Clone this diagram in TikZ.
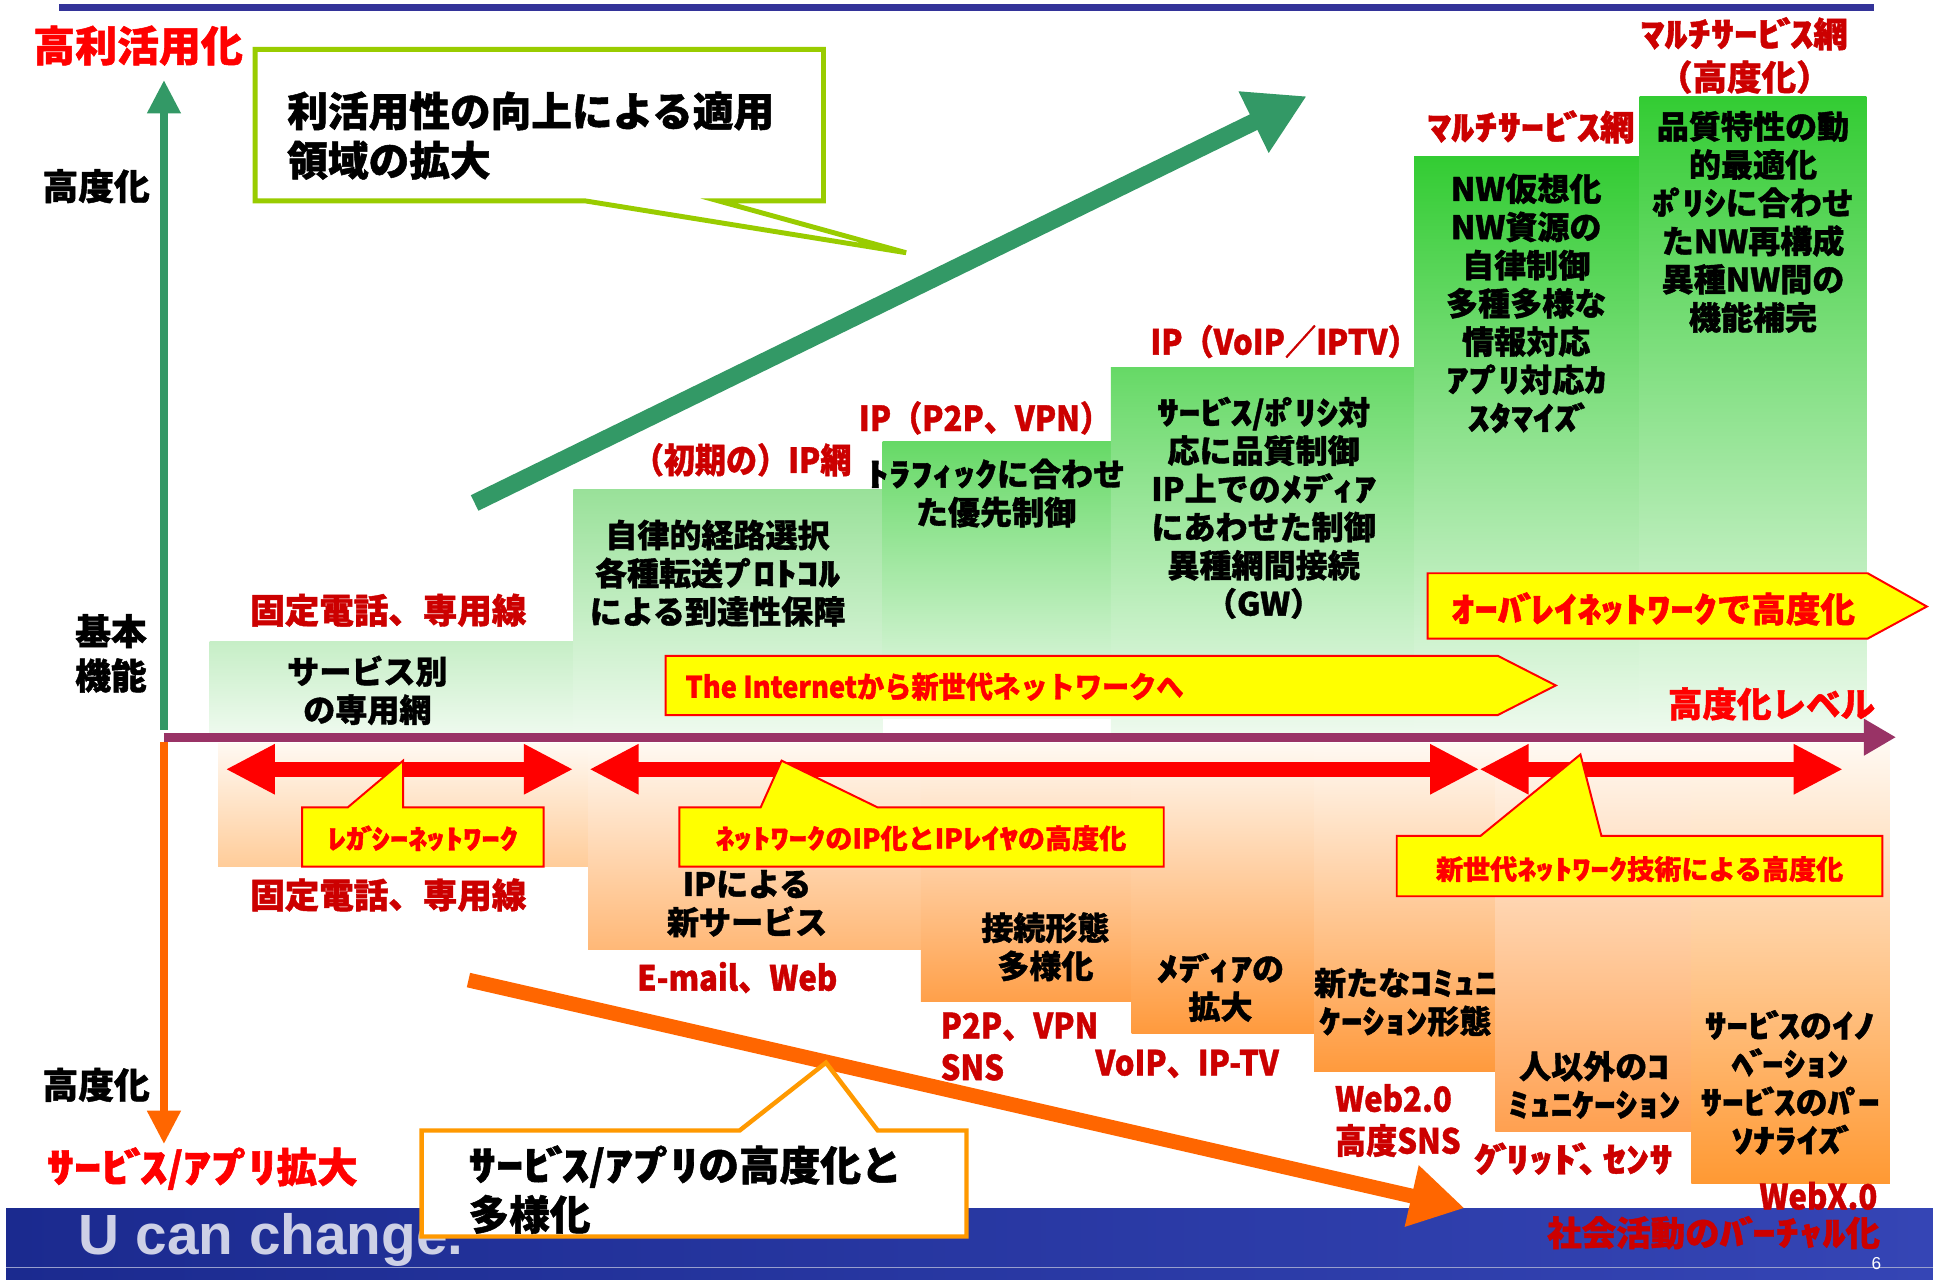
\documentclass[tikz,border=0pt]{standalone}
\usepackage{fontspec}
\usepackage{graphicx}
\setmainfont{Noto Sans CJK JP}[BoldFeatures={FakeBold=1.2}]
\newfontfamily\latfont{Liberation Sans}
\usetikzlibrary{arrows.meta}
\definecolor{navy}{HTML}{333399}
\definecolor{ggreen}{HTML}{339966}
\definecolor{purp}{HTML}{993366}
\definecolor{orng}{HTML}{FF6600}
\definecolor{dred}{HTML}{CC0000}
\definecolor{bred}{HTML}{FF0000}
\definecolor{lime}{HTML}{99CC00}
\definecolor{amber}{HTML}{FF9900}
\definecolor{yel}{HTML}{FFFF00}
\definecolor{bandA}{HTML}{1B2A8F}
\definecolor{bandB}{HTML}{3545B5}
\definecolor{gb}{HTML}{EEFAEE}
\definecolor{gsA}{HTML}{C6EEC6}
\definecolor{gsB}{HTML}{99E199}
\definecolor{gsC}{HTML}{66D966}
\definecolor{gsCm}{HTML}{A6E8A6}
\definecolor{gsD}{HTML}{33CC33}
\definecolor{gsDm}{HTML}{8EDC8E}
\definecolor{otop}{HTML}{FFF9F2}
\newcommand{\hw}[1]{\scalebox{1.35}[1]{#1}}
\newcommand{\cnd}[1]{\scalebox{0.9}[1]{#1}}
\newcommand{\dk}{\kern-0.1em ﾞ\kern-0.2em }
\newcommand{\hd}{\kern-0.1em ﾟ\kern-0.2em }
\tikzset{
  every node/.style={inner sep=0pt, outer sep=0pt},
  blk/.style={text=black, align=center, font=\fontsize{13}{15.5}\selectfont\bfseries},
  rlab/.style={text=dred, align=center, font=\fontsize{14}{17}\selectfont\bfseries},
  blab/.style={text=bred, align=center, font=\fontsize{14}{17}\selectfont\bfseries},
  axlab/.style={text=black, align=center, font=\fontsize{14.5}{18}\selectfont\bfseries},
  bigtxt/.style={text=black, align=left, font=\fontsize{16.5}{20}\selectfont\bfseries},
  ytxt/.style={text=bred, font=\fontsize{11}{13}\selectfont\bfseries},
  yshape/.style={fill=yel, draw=bred, line width=0.8pt, line join=miter},
  redarr/.style={draw=bred, line width=6pt, {Triangle[length=20pt,width=19pt]}-{Triangle[length=20pt,width=19pt]}},
  axarrow/.style={line width=3pt, -{Triangle[length=13.5pt,width=13pt]}},
}
\begin{document}
\begin{tikzpicture}[x=0.5pt,y=-0.5pt]
\useasboundingbox (0,0) rectangle (1568,1038);
\fill[white] (0,0) rectangle (1568,1038);

% bottom band
\shade[left color=bandA, right color=bandB] (5,980) rectangle (1568,1038);
\draw[white!55!bandA, line width=0.6pt] (5,1028) -- (1568,1028);
\node[anchor=west, text=white!78!bandA, font=\latfont\fontsize{23}{26}\selectfont\bfseries] (uc) at (64,1006) {U can change.};
\node[text=white, font=\latfont\fontsize{7}{8}\selectfont] (pg) at (1522,1025) {6};

% top bar
\fill[navy] (48,3) rectangle (1520,9);

% green steps
\shade[top color=gsA, bottom color=gb] (170,520) rectangle (465,595);
\shade[top color=gsB, bottom color=gb] (465,397) rectangle (716,595);
\shade[top color=gsC, middle color=gsCm, bottom color=gb] (716,358) rectangle (901,583);
\shade[top color=gsC, middle color=gsCm, bottom color=gb] (901,298) rectangle (1147,595);
\shade[top color=gsD, middle color=gsDm, bottom color=gb] (1147,127) rectangle (1330,595);
\shade[top color=gsD, middle color=gsDm, bottom color=gb] (1330,78) rectangle (1514,595);

% orange columns
\shade[top color=otop, bottom color={rgb,255:red,255;green,204;blue,153}] (177,603) rectangle (477,703);
\shade[top color=otop, bottom color={rgb,255:red,255;green,184;blue,119}] (477,603) rectangle (747,770);
\shade[top color=otop, bottom color={rgb,255:red,255;green,160;blue,74}] (747,603) rectangle (918,812);
\shade[top color=otop, bottom color={rgb,255:red,255;green,154;blue,61}] (918,603) rectangle (1066,838);
\shade[top color=otop, bottom color={rgb,255:red,255;green,154;blue,61}] (1066,603) rectangle (1213,869);
\shade[top color=otop, bottom color={rgb,255:red,255;green,160;blue,80}] (1213,603) rectangle (1372,918);
\shade[top color=otop, bottom color={rgb,255:red,255;green,153;blue,51}] (1372,603) rectangle (1533,960);

% axes
\coordinate (gv0) at (133,592);
\coordinate (gv1) at (133,65);
\coordinate (ov0) at (133,602);
\coordinate (ov1) at (133,928);
\coordinate (pa0) at (133,598);
\coordinate (pa1) at (1538,598);
\draw[ggreen, axarrow] (gv0) -- (gv1);
\draw[orng, axarrow] (ov0) -- (ov1);
\draw[purp, line width=3.5pt, -{Triangle[length=13pt,width=14pt]}] (pa0) -- (pa1);

% axis labels
\node[text=bred, font=\fontsize{17}{20}\selectfont\bfseries] (hk) at (112,37) {高利活用化};
\node[axlab] (kd1) at (78,151) {高度化};
\node[axlab] (kn) at (90,530) {基本\\機能};
\node[axlab] (kd2) at (78,880) {高度化};
\node[text=bred, font=\fontsize{16.5}{19}\selectfont\bfseries] (sa) at (164,948) {\hw{ｻｰﾋ\dk ｽ}/\hw{ｱﾌ\hd ﾘ}拡大};
\node[blab] (lvl) at (1437,571) {高度化レベル};

% step labels
\node[rlab] (l1) at (315,495) {固定電話、専用線};
\node[rlab] (l2) at (602,373) {\cnd{（初期の）IP網}};
\node[rlab] (l3) at (799,339) {\cnd{IP（P2P、VPN）}};
\node[rlab] (l4) at (1042,277) {\cnd{IP（VoIP／IPTV）}};
\node[rlab] (l5) at (1242,103) {\hw{ﾏﾙﾁｻｰﾋ\dk ｽ}網};
\node[rlab, font=\fontsize{14}{17.5}\selectfont\bfseries] (l6) at (1415,45) {\hw{ﾏﾙﾁｻｰﾋ\dk ｽ}網\\（高度化）};

% step texts
\node[blk] (s1) at (298,560) {サービス別\\の専用網};
\node[blk] (s2) at (582,465) {自律的経路選択\\各種転送\hw{ﾌ\hd ﾛﾄｺﾙ}\\による到達性保障};
\node[blk] (s3) at (808,400) {\hw{ﾄﾗﾌｨｯｸ}に合わせ\\た優先制御};
\node[blk] (s4) at (1025,412) {\hw{ｻｰﾋ\dk ｽ}/\hw{ﾎ\hd ﾘｼ}対\\応に品質制御\\IP上での\hw{ﾒﾃ\dk ｨｱ}\\にあわせた制御\\異種網間接続\\（GW）};
\node[blk] (s5) at (1238,246) {NW仮想化\\NW資源の\\自律制御\\多種多様な\\情報対応\\\hw{ｱﾌ\hd ﾘ}対応\hw{ｶ}\\\hw{ｽﾀﾏｲｽ\dk}};
\node[blk] (s6) at (1422,180) {品質特性の動\\的最適化\\\hw{ﾎ\hd ﾘｼ}に合わせ\\たNW再構成\\異種NW間の\\機能補完};

% yellow big arrows
\draw[yshape] (540,532) -- (1215,532) -- (1262,556) -- (1215,580) -- (540,580) -- cycle;
\node[anchor=west, text=bred, font=\fontsize{12}{14}\selectfont\bfseries] (inet) at (556,557) {\scalebox{0.92}[1]{The Internetから新世代ネットワークへ}};
\draw[yshape] (1158,465) -- (1515,465) -- (1563,492) -- (1515,518) -- (1158,518) -- cycle;
\node[text=bred, font=\fontsize{14}{16}\selectfont\bfseries] (ovl) at (1341,494) {\hw{ｵｰﾊ\dk ﾚｲﾈｯﾄﾜｰｸ}で高度化};

% red double arrows
\coordinate (ra0) at (183,624); \coordinate (ra1) at (465,624);
\coordinate (rb0) at (478,624); \coordinate (rb1) at (1200,624);
\coordinate (rc0) at (1200,624); \coordinate (rc1) at (1495,624);
\draw[redarr] (ra0) -- (ra1);
\draw[redarr] (rb0) -- (rb1);
\draw[redarr] (rc0) -- (rc1);

% yellow callouts
\draw[yshape] (245,655) -- (282,655) -- (327,617) -- (327,655) -- (441,655) -- (441,703) -- (245,703) -- cycle;
\node[ytxt] (c1) at (343,680) {\hw{ﾚｶ\dk ｼｰﾈｯﾄﾜｰｸ}};
\draw[yshape] (551,655) -- (617,655) -- (634,617) -- (712,655) -- (944,655) -- (944,703) -- (551,703) -- cycle;
\node[ytxt] (c2) at (747,680) {\hw{ﾈｯﾄﾜｰｸ}のIP化とIP\hw{ﾚｲﾔ}の高度化};
\draw[yshape] (1133,678) -- (1201,678) -- (1282,612) -- (1299,678) -- (1527,678) -- (1527,727) -- (1133,727) -- cycle;
\node[ytxt] (c3) at (1330,705) {新世代\hw{ﾈｯﾄﾜｰｸ}技術による高度化};

% bottom texts
\node[rlab] (b1) at (315,726) {固定電話、専用線};
\node[blk] (o2) at (606,733) {IPによる\\新サービス};
\node[rlab] (b2) at (598,793) {\cnd{E-mail、Web}};
\node[blk] (o3) at (848,768) {接続形態\\多様化};
\node[rlab, align=left, anchor=west] (b3) at (763,849) {\cnd{P2P、VPN}\\\cnd{SNS}};
\node[blk] (o4) at (990,801) {\hw{ﾒﾃ\dk ｨｱ}の\\拡大};
\node[rlab] (b4) at (963,863) {\cnd{VoIP、IP-TV}};
\node[blk] (o5) at (1140,813) {新たな\hw{ｺﾐｭﾆ}\\\hw{ｹｰｼｮﾝ}形態};
\node[rlab, align=left, anchor=west] (b5) at (1083,909) {\cnd{Web2.0}\\\cnd{高度SNS}};
\node[blk] (o6) at (1293,880) {人以外の\hw{ｺ}\\\hw{ﾐｭﾆｹｰｼｮﾝ}};
\node[blk] (o7) at (1452,878) {\hw{ｻｰﾋ\dk ｽ}の\hw{ｲﾉ}\\\hw{ﾍ\dk ｰｼｮﾝ}\\\hw{ｻｰﾋ\dk ｽ}の\hw{ﾊ\hd ｰ}\\\hw{ｿﾅﾗｲｽ\dk}};
\node[rlab] (b6) at (1276,940) {\hw{ｸ\dk ﾘｯﾄ\dk}\kern-0.2em 、\kern-0.3em\hw{ｾﾝｻ}};
\node[rlab] (b7) at (1475,970) {\cnd{WebX.0}};
\node[rlab] (b8) at (1390,1000) {社会活動の\hw{ﾊ\dk ｰﾁｬﾙ}化};

% big diagonal arrows
\coordinate (ga0) at (385,408); \coordinate (ga1) at (1060,78);
\draw[ggreen, line width=7pt, -{Triangle[length=24pt,width=26pt]}] (ga0) -- (ga1);
\coordinate (oa0) at (380,795); \coordinate (oa1) at (1188,980);
\draw[orng, line width=6pt, -{Triangle[length=22pt,width=24pt]}] (oa0) -- (oa1);

% big callouts
\draw[lime, line width=2pt, fill=white, line join=miter] (207,40) -- (668,40) -- (668,163) -- (583,163) -- (735,205) -- (475,163) -- (207,163) -- cycle;
\node[bigtxt, anchor=west] (gc) at (233,110) {利活用性の向上による適用\\領域の拡大};
\draw[amber, line width=1.8pt, fill=white, line join=miter] (342,917) -- (600,917) -- (670,862) -- (712,917) -- (784,917) -- (784,1003) -- (342,1003) -- cycle;
\node[bigtxt, anchor=west] (oc) at (380,965) {\hw{ｻｰﾋ\dk ｽ}/\hw{ｱﾌ\hd ﾘ}の高度化と\\多様化};
\end{tikzpicture}
\end{document}
